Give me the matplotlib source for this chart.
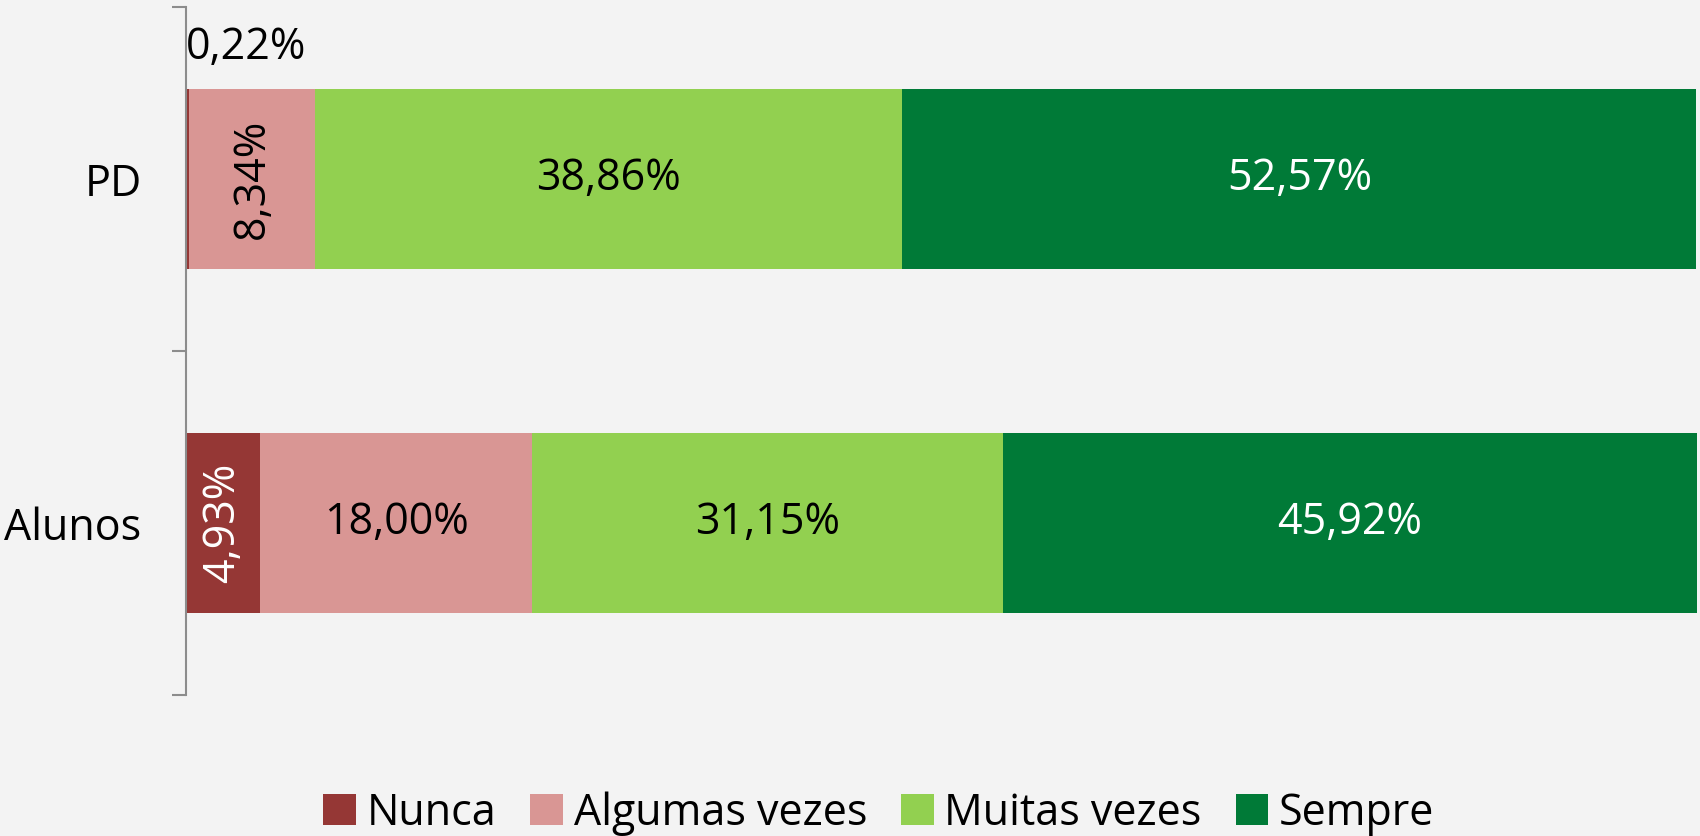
import matplotlib.pyplot as plt
from matplotlib.patches import Patch

categories = ['Alunos', 'PD']
series = ['Nunca', 'Algumas vezes', 'Muitas vezes', 'Sempre']
nunca = [4.93, 0.22]
algumas = [18.00, 8.34]
muitas = [31.15, 38.86]
sempre = [45.92, 52.57]

colors = ['#953735', '#D99694', '#92D050', '#007A37']
text_colors = ['white', 'black', 'black', 'white']

plt.rcParams['font.family'] = ['Open Sans', 'DejaVu Sans']
FS = 31

fig = plt.figure(figsize=(17, 8.36), dpi=100)
fig.patch.set_facecolor('#f3f3f3')
ax = fig.add_axes([0.1094, 0.1687, 0.8886, 0.8229])
ax.set_facecolor('#f3f3f3')

values = [nunca, algumas, muitas, sempre]
ypos = list(range(len(categories)))
left = [0.0] * len(categories)
for s, vals in enumerate(values):
    bars = ax.barh(ypos, vals, left=left, height=0.523, color=colors[s], linewidth=0)
    for i, (b, v) in enumerate(zip(bars, vals)):
        label = f'{v:.2f}%'.replace('.', ',')
        cx = b.get_x() + b.get_width() / 2
        cy = b.get_y() + b.get_height() / 2
        if v < 1:
            ax.annotate(label, (b.get_x(), b.get_y() + b.get_height()),
                        xytext=(0, 14), textcoords='offset points',
                        ha='left', va='bottom', fontsize=FS, color='black')
        elif v < 10:
            ax.text(cx, cy, label, ha='center', va='center', rotation=90,
                    fontsize=FS, color=text_colors[s])
        else:
            ax.text(cx, cy, label, ha='center', va='center',
                    fontsize=FS, color=text_colors[s])
    left = [l + v for l, v in zip(left, vals)]

ax.set_xlim(0, 100)
ax.set_ylim(-0.5, len(categories) - 0.5)
ax.set_xticks([])
ax.set_yticks(ypos)
ax.set_yticklabels(categories, fontsize=FS)
ax.tick_params(axis='y', which='major', length=0, pad=32)
ax.set_yticks([-0.5, 0.5, 1.5], minor=True)
ax.tick_params(axis='y', which='minor', length=10, width=1.5, color='#8c8c8c')

for side in ['top', 'right', 'bottom']:
    ax.spines[side].set_visible(False)
ax.spines['left'].set_color('#8c8c8c')
ax.spines['left'].set_linewidth(1.5)

handles = [Patch(facecolor=c, edgecolor='none') for c in colors]
fig.legend(handles, series, loc='center', bbox_to_anchor=(0.517, 0.027),
           ncol=4, frameon=False, fontsize=FS, handlelength=0.75,
           handleheight=0.75, handletextpad=0.25, columnspacing=0.8)

fig.savefig('out.png', facecolor=fig.get_facecolor())
